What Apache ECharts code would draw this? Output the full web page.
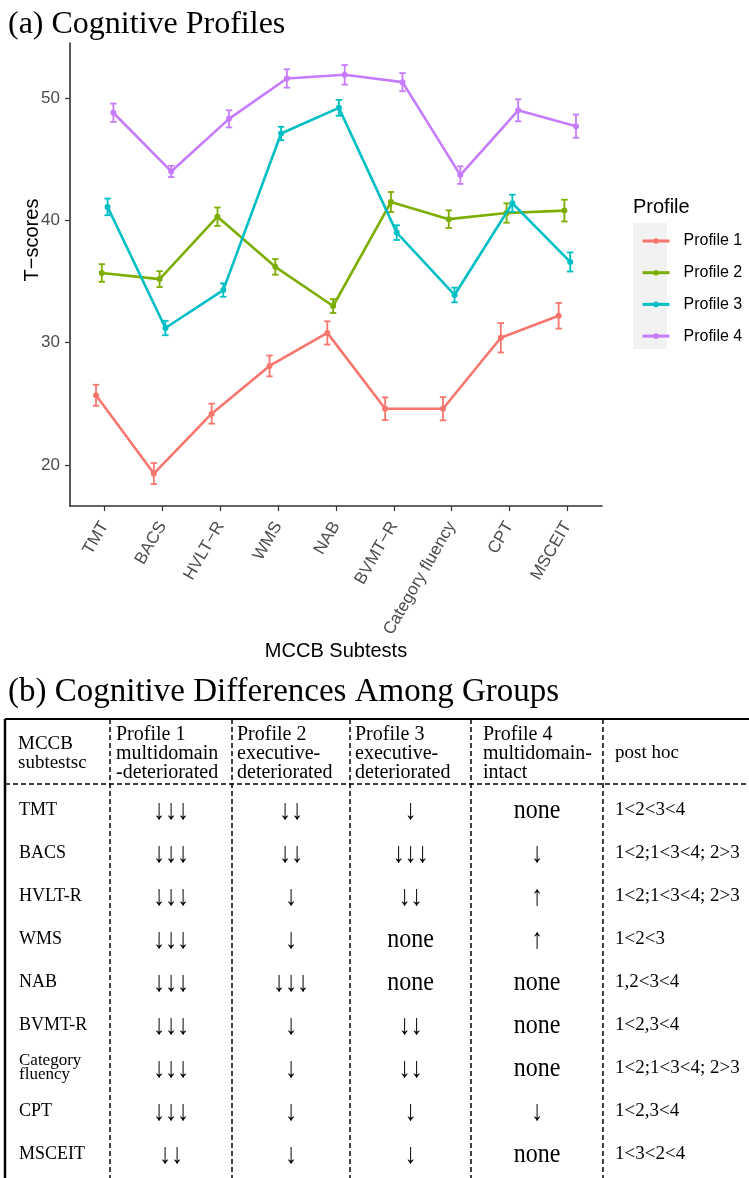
<!DOCTYPE html>
<html>
<head>
<meta charset="utf-8">
<script src="https://cdn.jsdelivr.net/npm/echarts@6/dist/echarts.min.js"></script>
<style>
html,body{margin:0;padding:0;background:#fff;}
#chart{width:749px;height:1178px;}
</style>
</head>
<body>
<div id="chart"></div>
<script>
// ---------- data ----------
const categories = ['TMT','BACS','HVLT-R','WMS','NAB','BVMT-R','Category fluency','CPT','MSCEIT'];
const profileNames = ['Profile 1','Profile 2','Profile 3','Profile 4'];
const profile1 = [25.7, 19.3, 24.2, 28.1, 30.8, 24.6, 24.6, 30.4, 32.2];
const profile1Err = [0.86, 0.86, 0.82, 0.85, 0.95, 0.93, 0.95, 1.2, 1.05];
const profile2 = [35.7, 35.2, 40.3, 36.2, 33.0, 41.5, 40.1, 40.6, 40.8];
const profile2Err = [0.72, 0.65, 0.75, 0.64, 0.57, 0.82, 0.72, 0.79, 0.89];
const profile3 = [41.1, 31.2, 34.3, 47.1, 49.2, 39.0, 33.9, 41.4, 36.6];
const profile3Err = [0.68, 0.59, 0.55, 0.55, 0.65, 0.6, 0.6, 0.7, 0.78];
const profile4 = [48.8, 44.0, 48.3, 51.6, 51.9, 51.3, 43.7, 49.0, 47.7];
const profile4Err = [0.75, 0.46, 0.7, 0.75, 0.8, 0.74, 0.72, 0.9, 0.95];
const yTicks = [20, 30, 40, 50];

const tableHeaders = [
  ['MCCB','subtestsc'],
  ['Profile 1','multidomain','-deteriorated'],
  ['Profile 2','executive-','deteriorated'],
  ['Profile 3','executive-','deteriorated'],
  ['Profile 4','multidomain-','intact'],
  ['post hoc']
];
const tableRowLabels = ['TMT','BACS','HVLT-R','WMS','NAB','BVMT-R','Category\nfluency','CPT','MSCEIT'];
const diffProfile1 = ['↓↓↓','↓↓↓','↓↓↓','↓↓↓','↓↓↓','↓↓↓','↓↓↓','↓↓↓','↓↓'];
const diffProfile2 = ['↓↓','↓↓','↓','↓','↓↓↓','↓','↓','↓','↓'];
const diffProfile3 = ['↓','↓↓↓','↓↓','none','none','↓↓','↓↓','↓','↓'];
const diffProfile4 = ['none','↓','↑','↑','none','none','none','↓','none'];
const postHoc = ['1<2<3<4','1<2;1<3<4; 2>3','1<2;1<3<4; 2>3','1<2<3','1,2<3<4','1<2,3<4','1<2;1<3<4; 2>3','1<2,3<4','1<3<2<4'];

// ---------- style / layout ----------
const colors = ['#F8766D','#7CAE00','#00BFC4','#C77CFF'];
const dodge = [-0.15, -0.05, 0.05, 0.15];
const sans = '"Liberation Sans", Arial, sans-serif';
const serif = '"Liberation Serif", "Times New Roman", serif';

const means = [profile1, profile2, profile3, profile4];
const errs = [profile1Err, profile2Err, profile3Err, profile4Err];

const series = [];
means.forEach((vals, k) => {
  series.push({
    type: 'custom',
    name: 'err' + k,
    silent: true,
    z: 2 + k,
    encode: {x: 0, y: [1, 2]},
    data: vals.map((v, i) => [i + dodge[k], v - errs[k][i], v + errs[k][i]]),
    renderItem: (params, api) => {
      const x = api.value(0);
      const p1 = api.coord([x, api.value(1)]);
      const p2 = api.coord([x, api.value(2)]);
      const w = 3.2;
      const st = {stroke: colors[k], lineWidth: 1.8};
      return {type: 'group', children: [
        {type: 'line', shape: {x1: p1[0], y1: p1[1], x2: p2[0], y2: p2[1]}, style: st},
        {type: 'line', shape: {x1: p1[0]-w, y1: p1[1], x2: p1[0]+w, y2: p1[1]}, style: st},
        {type: 'line', shape: {x1: p2[0]-w, y1: p2[1], x2: p2[0]+w, y2: p2[1]}, style: st}
      ]};
    }
  });
  series.push({
    type: 'line',
    name: profileNames[k],
    z: 2 + k,
    data: vals.map((v, i) => [i + dodge[k], v]),
    symbol: 'circle',
    symbolSize: 6,
    showSymbol: true,
    lineStyle: {width: 2.6, color: colors[k]},
    itemStyle: {color: colors[k]},
    emphasis: {disabled: true}
  });
});

// ---------- table graphics ----------
const graphics = [];
graphics.push({type:'text', x: 8, y: 25, style:{text:'(a) Cognitive Profiles', font:'32px ' + serif, fill:'#000', align:'left', verticalAlign:'middle'}});
graphics.push({type:'text', x: 32, y: 240, rotation: Math.PI/2, style:{text:'T\u2212scores', font:'20px ' + sans, fill:'#000', align:'center', verticalAlign:'middle'}});
graphics.push({type:'text', x: 633, y: 207, style:{text:'Profile', font:'20px ' + sans, fill:'#000', align:'left', verticalAlign:'middle'}});
graphics.push({type:'rect', x: 633, y: 223, z: 0, shape:{width: 34, height: 126}, style:{fill:'#F2F2F2'}});

graphics.push({type:'text', x: 8, y: 692, style:{text:'(b) Cognitive Differences Among Groups', font:'33px ' + serif, fill:'#000', align:'left', verticalAlign:'middle'}});

const tTop = 719, tHead = 784, tBottom = 1178, tLeft = 5, tRight = 749;
const colBounds = [tLeft, 110, 232, 350, 471, 603, tRight];
const colPad = [13, 6, 5, 5, 12, 12];
const rowY0 = 810, rowStep = 43;

graphics.push({type:'line', shape:{x1: tLeft, y1: tTop, x2: tRight, y2: tTop}, style:{stroke:'#000', lineWidth: 2}});
graphics.push({type:'line', shape:{x1: tLeft, y1: tTop, x2: tLeft, y2: tBottom}, style:{stroke:'#000', lineWidth: 2.5}});
graphics.push({type:'line', shape:{x1: tLeft, y1: tHead, x2: tRight, y2: tHead}, style:{stroke:'#000', lineWidth: 1.5, lineDash:[5,3]}});
for (let c = 1; c <= 5; c++) {
  graphics.push({type:'line', shape:{x1: colBounds[c], y1: tTop, x2: colBounds[c], y2: tBottom}, style:{stroke:'#000', lineWidth: 1.5, lineDash:[5,3]}});
}
tableHeaders.forEach((lines, c) => {
  const mid = (tTop + tHead) / 2 + 2;
  const fs = (c === 0 || c === 5) ? 19 : 20;
  graphics.push({type:'text', x: colBounds[c] + colPad[c], y: mid, style:{
    text: lines.join('\n'), font: fs + 'px ' + serif, lineHeight: 19, fill:'#000', align:'left', verticalAlign:'middle'}});
});
const cols = [diffProfile1, diffProfile2, diffProfile3, diffProfile4];
tableRowLabels.forEach((lab, r) => {
  const y = rowY0 + r * rowStep;
  const twoLine = lab.indexOf('\n') >= 0;
  graphics.push({type:'text', x: colBounds[0] + 14, y: y, style:{
    text: lab, font: (twoLine ? 17 : 18) + 'px ' + serif, lineHeight: twoLine ? 14 : 20, fill:'#000', align:'left', verticalAlign:'middle'}});
  cols.forEach((arr, c) => {
    const cx = (colBounds[c+1] + colBounds[c+2]) / 2;
    const isNone = arr[r] === 'none';
    graphics.push({type:'text', x: cx, y: y + 1, scaleY: isNone ? 1.12 : 1.2, style:{
      text: arr[r], font: '24px ' + serif, fill:'#000', align:'center', verticalAlign:'middle'}});
  });
  graphics.push({type:'text', x: colBounds[5] + colPad[5], y: y, style:{
    text: postHoc[r], font: '19px ' + serif, fill:'#000', align:'left', verticalAlign:'middle'}});
});

// ---------- chart ----------
const chart = echarts.init(document.getElementById('chart'), null, {renderer: 'canvas'});
chart.setOption({
  animation: false,
  backgroundColor: '#fff',
  grid: {left: 70, top: 43, width: 532, height: 463, containLabel: false},
  xAxis: {
    type: 'value', min: -0.6, max: 8.6,
    axisLine: {show: true, onZero: false, lineStyle: {color: '#333', width: 1.6}},
    axisTick: {show: true, length: 5, customValues: categories.map((c, i) => i), lineStyle: {color: '#333', width: 1.2}},
    axisLabel: {
      customValues: categories.map((c, i) => i),
      rotate: 60, margin: 17, fontSize: 17, fontFamily: sans, color: '#4D4D4D',
      formatter: v => (categories[Math.round(v)] || '').replace('-', '\u2212')
    },
    splitLine: {show: false},
    name: 'MCCB Subtests', nameLocation: 'middle', nameGap: 125,
    nameTextStyle: {fontSize: 20, fontFamily: sans, color: '#000'}
  },
  yAxis: {
    type: 'value', min: 16.65, max: 54.5,
    axisLine: {show: true, onZero: false, lineStyle: {color: '#333', width: 1.6}},
    axisTick: {show: true, length: 5, customValues: yTicks, lineStyle: {color: '#333', width: 1.2}},
    axisLabel: {customValues: yTicks, margin: 10, fontSize: 17, fontFamily: sans, color: '#4D4D4D'},
    splitLine: {show: false}
  },
  legend: {
    data: profileNames,
    orient: 'vertical',
    left: 636, top: 228,
    itemWidth: 27, itemHeight: 7, itemGap: 15.7,
    z: 5,
    lineStyle: {width: 3},
    textStyle: {fontSize: 16, fontFamily: sans, color: '#000', lineHeight: 16, padding: [0, 0, 0, 9]}
  },
  graphic: {elements: graphics},
  series: series
});
</script>
</body>
</html>
